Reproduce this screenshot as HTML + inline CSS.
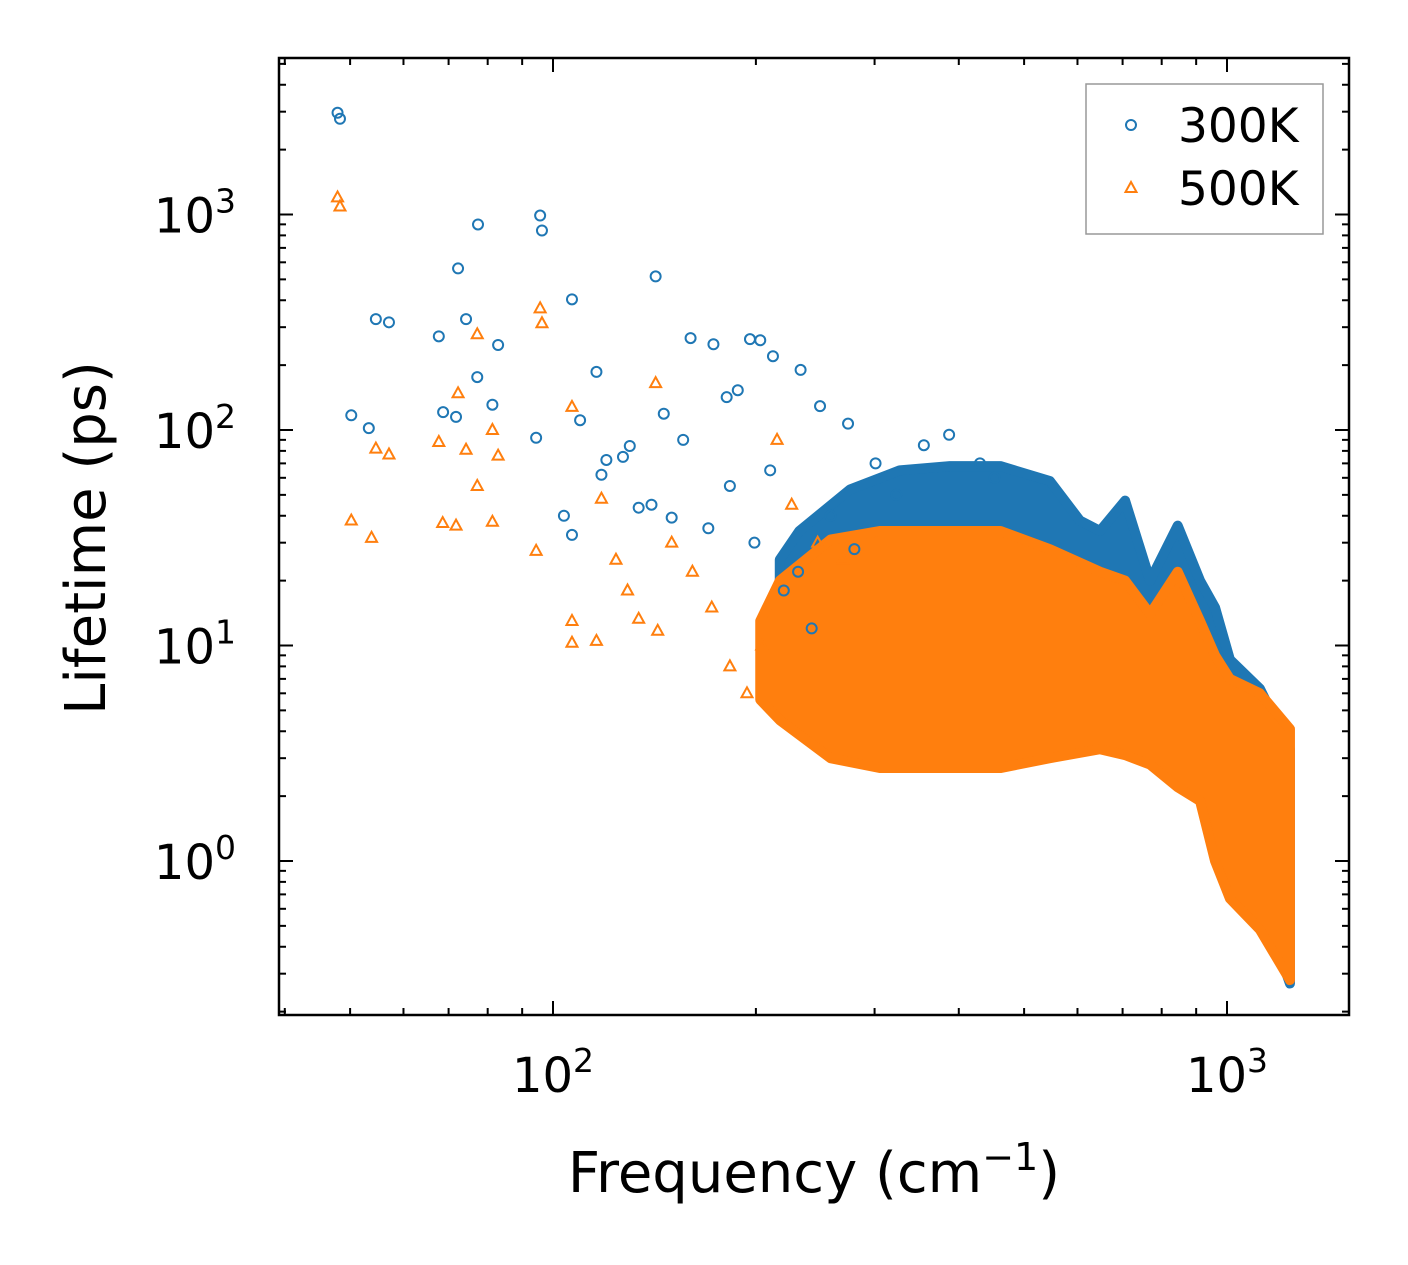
<!DOCTYPE html>
<html><head><meta charset="utf-8"><style>
html,body{margin:0;padding:0;background:#fff;}
svg{display:block;font-family:"DejaVu Sans","Liberation Sans",sans-serif;}
</style></head><body>
<svg id="chart" width="1408" height="1265" viewBox="0 0 1408 1265" xmlns="http://www.w3.org/2000/svg">
<rect width="1408" height="1265" fill="#fff"/>
<g id="bands"></g>
<g id="marks"></g>
<g id="axes"></g>
</svg>
<script>
const blueFreq=[47.9,48.3,54.6,57.1,50.2,53.3,67.7,68.7,71.8,72.3,74.3,77.2,77.4,81.3,82.9,94.4,95.7,96.3,103.8,106.7,106.7,109.7,116,120,130,134,142,146,150,160,173,181,188,196,203,212,233,249,274,118,127,140,156,170,183,199,210,220,231,242,258,280,301,323,355,387,430,452];
const blueLife=[2965,2782,327,316,117,102,272,121,115,562,327,176,899,131,248,92,989,843,40,404,32.6,111,186,72.6,84.3,43.6,516,119,39.2,267,250,142,153,264,261,220,190,129,107,62,75,45,90,35,55,30,65,18,22,12,40,28,70,50,85,95,70,60];
const orangeFreq=[47.9,48.3,50.2,53.8,54.6,57.1,67.7,68.6,71.8,72.3,74.3,77.2,77.2,81.3,81.3,82.9,94.4,95.7,96.3,106.7,106.7,106.7,116,134,142,143,118,124,129,150,161,172,183,194,204,215,226,247,269];
const orangeLife=[1200,1089,38,31.6,82,77,88,37,36,148,81,278,55,100,37.5,76,27.5,367,313,128,13,10.3,10.5,13.3,165,11.7,48,25,18,30,22,15,8,6,10,90,45,30,25];
const blueBandF=[217,232,276,327,388,461,546,605,648,706,769,845,912,960,1010,1119,1240];
const blueBandLo=[13,10.6,6.3,5.6,5.6,5.6,5.6,5,4.8,4.6,4.5,4.2,3.7,1.9,1.0,0.67,0.27];
const blueBandHi=[25,34,53,65,68,68,58,38,34,47,20,36,20,15,8.6,6.3,3.3];
const orangeBandF=[203,217,258,306,388,461,546,648,706,769,845,912,960,1010,1119,1240];
const orangeBandLo=[5.6,4.5,3,2.7,2.7,2.7,3,3.3,3.1,2.8,2.2,1.9,1.0,0.67,0.48,0.28];
const orangeBandHi=[13,20,31,34,34,34,28,22,20,14,22,13,9,7,6,4.1];
const xTicks=[100,1000];const xTickLabels=["2","3"];
const yTicks=[1,10,100,1000];const yTickLabels=["0","1","2","3"];

const L=279,R=1349,T=58,B=1015;
const X=f=>553+674*(Math.log10(f)-2);
const Y=v=>861-215.5*Math.log10(v);
const NS="http://www.w3.org/2000/svg";
function mk(tag,parent,attrs){const e=document.createElementNS(NS,tag);for(const k in attrs)e.setAttribute(k,attrs[k]);parent.appendChild(e);return e;}
const bands=document.getElementById('bands'),marks=document.getElementById('marks'),axes=document.getElementById('axes');
const BLUE='#1f77b4',ORANGE='#ff7f0e';
function band(F,lo,hi,color,name){
  let pts=F.map((f,i)=>X(f)+','+Y(hi[i]));
  for(let i=F.length-1;i>=0;i--)pts.push(X(F[i])+','+Y(lo[i]));
  const p=mk('polygon',bands,{points:pts.join(' '),fill:color,stroke:color,'stroke-width':10,'stroke-linejoin':'round'});
  
  
}
band(blueBandF,blueBandLo,blueBandHi,BLUE,'dense-300k-region');
function circle(x,y,parent){return mk('circle',parent,{cx:x,cy:y,r:5,fill:'none',stroke:BLUE,'stroke-width':2});}
function tri(x,y,parent){return mk('polygon',parent,{points:`${x},${y-6} ${x-5.5},${y+4} ${x+5.5},${y+4}`,fill:'none',stroke:ORANGE,'stroke-width':2});}
blueFreq.forEach((f,i)=>{const c=circle(X(f),Y(blueLife[i]),marks);

});
band(orangeBandF,orangeBandLo,orangeBandHi,ORANGE,'dense-500k-region');
bands.appendChild(marks);
const om=mk('g',bands,{});
orangeFreq.forEach((f,i)=>{const t=tri(X(f),Y(orangeLife[i]),om);

});

const fr=mk('rect',axes,{x:L,y:T,width:R-L,height:B-T,fill:'none',stroke:'#000','stroke-width':2.5});


for(let d=1;d<=3;d++)for(let m=1;m<10;m++){const f=m*Math.pow(10,d);const x=X(f);if(x<L||x>R)continue;const len=m===1?14:7;
 mk('line',axes,{x1:x,y1:B,x2:x,y2:B-len,stroke:'#000','stroke-width':2});
 mk('line',axes,{x1:x,y1:T,x2:x,y2:T+len,stroke:'#000','stroke-width':2});}
for(let d=-1;d<=3;d++)for(let m=1;m<10;m++){const v=m*Math.pow(10,d);const y=Y(v);if(y<T||y>B)continue;const len=m===1?14:7;
 mk('line',axes,{x1:L,y1:y,x2:L+len,y2:y,stroke:'#000','stroke-width':2});
 mk('line',axes,{x1:R,y1:y,x2:R-len,y2:y,stroke:'#000','stroke-width':2});}
xTicks.forEach((t,i)=>{const g=mk('text',axes,{x:X(t),y:1092,'font-size':48,'text-anchor':'middle'});


g.innerHTML='10<tspan dy="-20" font-size="33">'+xTickLabels[i]+'</tspan>';});
yTicks.forEach((t,i)=>{const g=mk('text',axes,{x:236,y:Y(t)+18,'font-size':48,'text-anchor':'end'});


g.innerHTML='10<tspan dy="-20" font-size="33">'+yTickLabels[i]+'</tspan>';});
const xt=mk('text',axes,{x:814,y:1192,'font-size':56,'text-anchor':'middle'});


xt.innerHTML='Frequency (cm<tspan dy="-22" font-size="38">−1</tspan><tspan dy="22">)</tspan>';
const yt=mk('text',axes,{x:0,y:0,'font-size':56,'text-anchor':'middle',transform:'translate(105,538) rotate(-90)'});


yt.textContent='Lifetime (ps)';
const lg=mk('g',axes,{});


mk('rect',lg,{x:1086,y:84,width:237,height:150,fill:'#fff',stroke:'#999','stroke-width':1.5});
circle(1131,125,lg);tri(1131,188,lg);
const l1=mk('text',lg,{x:1178,y:142,'font-size':47});l1.textContent='300K';


const l2=mk('text',lg,{x:1178,y:205,'font-size':47});l2.textContent='500K';


</script>
</body></html>
